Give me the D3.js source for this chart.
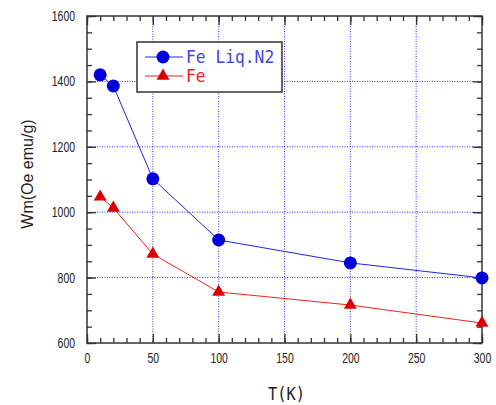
<!DOCTYPE html>
<html>
<head>
<meta charset="utf-8">
<script src="https://cdn.jsdelivr.net/npm/d3@7"></script>
<style>
body { margin: 0; background: #fff; }
text { font-family: "Liberation Sans", Arial, sans-serif; }
</style>
</head>
<body>
<div id="chart"></div>
<script>
// data
const temps = [10, 20, 50, 100, 200, 300];
const feLiqN2 = [1420, 1386, 1102, 915, 845, 799];
const fe = [1047, 1013, 872, 756, 716, 661];
const xTicks = [0, 50, 100, 150, 200, 250, 300];
const yTicks = [600, 800, 1000, 1200, 1400, 1600];
const seriesNames = ["Fe Liq.N2", "Fe"];

const margin = { top: 16, right: 14, bottom: 62, left: 87 };
const width = 496 - margin.left - margin.right;
const height = 405 - margin.top - margin.bottom;

const svg = d3
	.select("#chart")
	.append("svg")
	.attr("width", 496)
	.attr("height", 405);

const g = svg
	.append("g")
	.attr("transform", "translate(" + margin.left + "," + margin.top + ")");

const x = d3.scaleLinear().domain([0, 300]).range([0, width]);
const y = d3.scaleLinear().domain([600, 1600]).range([height, 0]);

// dotted grid
g.selectAll(".vgrid")
	.data(xTicks.slice(1, -1))
	.enter()
	.append("line")
	.attr("x1", (d) => x(d))
	.attr("x2", (d) => x(d))
	.attr("y1", 0)
	.attr("y2", height)
	.attr("stroke", "#3333ee")
	.attr("stroke-dasharray", "1,1.5");

g.selectAll(".hgrid")
	.data(yTicks.slice(1, -1))
	.enter()
	.append("line")
	.attr("x1", 0)
	.attr("x2", width)
	.attr("y1", (d) => y(d))
	.attr("y2", (d) => y(d))
	.attr("stroke", "#3333ee")
	.attr("stroke-dasharray", "1,1.5");

// axes with inside ticks
function styleAxis(sel) {
	sel.select(".domain").remove();
	sel.selectAll("line").attr("stroke", "#333").attr("stroke-width", 1.3);
	sel.selectAll("text")
		.attr("fill", "#222")
		.style("font-size", "14px")
		.attr("textLength", (d) => String(d).length * 5.8)
		.attr("lengthAdjust", "spacingAndGlyphs");
}

const xMinor = d3.range(0, 301, 10);
const yMinor = d3.range(600, 1601, 50);
const fmt = d3.format("d");

g.append("g")
	.attr("transform", "translate(0," + height + ")")
	.call(d3.axisBottom(x).tickValues(xMinor).tickSize(-5).tickFormat(""))
	.call(styleAxis);
g.append("g")
	.attr("transform", "translate(0," + height + ")")
	.call(d3.axisBottom(x).tickValues(xTicks).tickSize(-9).tickPadding(10).tickFormat(fmt))
	.call(styleAxis);
g.append("g")
	.call(d3.axisTop(x).tickValues(xMinor).tickSize(-5).tickFormat(""))
	.call(styleAxis);
g.append("g")
	.call(d3.axisTop(x).tickValues(xTicks).tickSize(-9).tickFormat(""))
	.call(styleAxis);
g.append("g")
	.call(d3.axisLeft(y).tickValues(yMinor).tickSize(-5).tickFormat(""))
	.call(styleAxis);
g.append("g")
	.call(d3.axisLeft(y).tickValues(yTicks).tickSize(-9).tickPadding(12).tickFormat(fmt))
	.call(styleAxis);
g.append("g")
	.attr("transform", "translate(" + width + ",0)")
	.call(d3.axisRight(y).tickValues(yMinor).tickSize(-5).tickFormat(""))
	.call(styleAxis);
g.append("g")
	.attr("transform", "translate(" + width + ",0)")
	.call(d3.axisRight(y).tickValues(yTicks).tickSize(-9).tickFormat(""))
	.call(styleAxis);

// frame
g.append("rect")
	.attr("width", width)
	.attr("height", height)
	.attr("fill", "none")
	.attr("stroke", "#333")
	.attr("stroke-width", 1.5);

// lines
const line = d3
	.line()
	.x((d, i) => x(temps[i]))
	.y((d) => y(d));

g.append("path")
	.attr("d", line(feLiqN2))
	.attr("fill", "none")
	.attr("stroke", "#2222ee")
	.attr("stroke-width", 1);

g.append("path")
	.attr("d", line(fe))
	.attr("fill", "none")
	.attr("stroke", "#ee2222")
	.attr("stroke-width", 1);

// markers
g.selectAll(".dot")
	.data(feLiqN2)
	.enter()
	.append("circle")
	.attr("cx", (d, i) => x(temps[i]))
	.attr("cy", (d) => y(d))
	.attr("r", 6.5)
	.attr("fill", "#0000dd");

const tri = d3.symbol().type(d3.symbolTriangle).size(72);
g.selectAll(".tri")
	.data(fe)
	.enter()
	.append("path")
	.attr("d", tri)
	.attr("transform", (d, i) => "translate(" + x(temps[i]) + "," + y(d) + ")")
	.attr("fill", "#dd0000");

// legend
const legend = svg.append("g").attr("transform", "translate(137,42)");
legend
	.append("rect")
	.attr("width", 145)
	.attr("height", 50)
	.attr("fill", "#fff")
	.attr("stroke", "#333")
	.attr("stroke-width", 1.5);

const legendColors = ["#2222ee", "#ee2222"];
seriesNames.forEach((name, i) => {
	const ly = 15 + i * 19;
	legend
		.append("line")
		.attr("x1", 8)
		.attr("x2", 46)
		.attr("y1", ly)
		.attr("y2", ly)
		.attr("stroke", legendColors[i]);
	if (i === 0) {
		legend.append("circle").attr("cx", 26).attr("cy", ly).attr("r", 6.5).attr("fill", "#0000dd");
	} else {
		legend.append("path").attr("d", tri).attr("transform", "translate(26," + ly + ")").attr("fill", "#dd0000");
	}
	legend
		.append("text")
		.attr("x", 49)
		.attr("y", ly)
		.attr("dy", "0.36em")
		.attr("textLength", name.length * 9.8)
		.attr("lengthAdjust", "spacingAndGlyphs")
		.style("font-family", "'DejaVu Sans Mono', monospace")
		.style("font-size", "17px")
		.attr("fill", i === 0 ? "#4444dd" : "#ee2222")
		.text(name);
});

// axis titles
svg.append("text")
	.attr("x", 268)
	.attr("y", 400)
	.attr("textLength", 37)
	.attr("lengthAdjust", "spacingAndGlyphs")
	.style("font-family", "'DejaVu Sans Mono', monospace")
	.style("font-size", "18px")
	.attr("fill", "#222")
	.text("T(K)");

svg.append("text")
	.attr("transform", "rotate(-90)")
	.attr("x", -174)
	.attr("y", 33)
	.attr("text-anchor", "middle")
	.style("font-family", "'Liberation Sans', Arial, sans-serif")
	.style("font-size", "16px")
	.attr("fill", "#222")
	.text("Wm(Oe emu/g)");
</script>
</body>
</html>
